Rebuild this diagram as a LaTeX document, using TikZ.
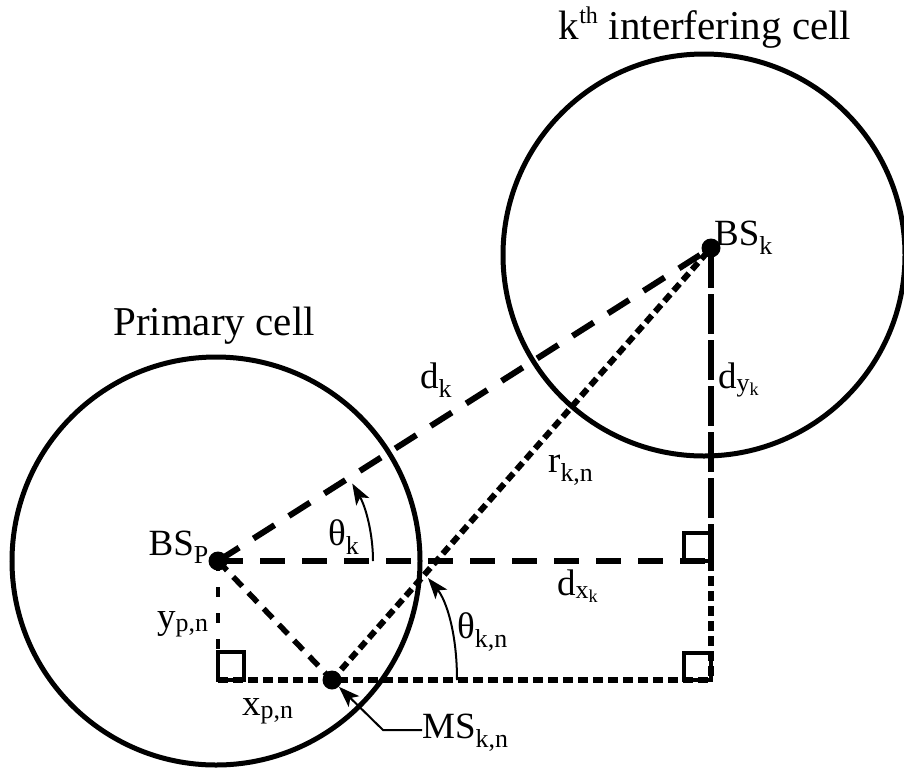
\documentclass[tikz,border=0pt]{standalone}
\usepackage{fontspec}
\setmainfont{Liberation Serif}
\usepackage{tikz}
\usetikzlibrary{arrows.meta, calc, positioning}

\begin{document}
\begin{tikzpicture}[x=1pt, y=-1pt,
    cell/.style={draw, line width=5pt},
    dot/.style={circle, fill, inner sep=0pt, minimum size=19pt},
    lbl/.style={font=\fontsize{37}{40}\selectfont, inner sep=0pt},
    ttl/.style={font=\fontsize{41}{44}\selectfont, inner sep=0pt},
    longdash/.style={line width=6pt, dash pattern=on 25pt off 17pt},
    barline/.style={line width=6pt, dash pattern=on 40pt off 6pt},
    shortdash/.style={line width=6pt, dash pattern=on 10pt off 5pt},
    dotline/.style={line width=6pt, dash pattern=on 9pt off 5pt},
    rbox/.style={draw, line width=4.5pt},
    angarrow/.style={-{Stealth[length=21pt, width=15pt, inset=5pt]}, line width=2pt}]
    \useasboundingbox (0,0) rectangle (904,769);

    % Cells
    \draw[cell] (216,561) circle[radius=204];
    \draw[cell] (704,255) circle[radius=201];
    \node[ttl, anchor=base] (primary) at (214,335) {Primary cell};
    \node[ttl, anchor=base] (interf) at (705,39) {k\textsuperscript{\fontsize{24}{24}\selectfont\raisebox{6pt}{th}} interfering cell};

    % Stations
    \node[dot] (BSp) at (218,561) {};
    \node[dot] (BSk) at (711,248) {};
    \node[dot] (MS) at (332,680) {};
    \coordinate (cornerA) at (711,561);
    \coordinate (cornerB) at (711,680);
    \coordinate (cornerC) at (218,680);

    % Right angles
    \draw[rbox] (684,533) rectangle (cornerA);
    \draw[rbox] (684,653) rectangle (cornerB);
    \draw[rbox] (218,652) rectangle (244,680);

    % Distances
    \draw[longdash] (BSp.center) -- (BSk.center);
    \draw[longdash] (BSp.center) -- (cornerA);
    \draw[barline] (BSk.center) -- (cornerA);
    \draw[shortdash] (cornerA) -- (cornerB);
    \draw[shortdash] (cornerC) -- (cornerB);
    \draw[dotline] (MS.center) -- (BSk.center);
    \draw[line width=5.5pt, dash pattern=on 13pt off 9pt] (BSp.center) -- (MS.center);
    \draw[line width=4.5pt, dash pattern=on 10pt off 16pt] (BSp.center) -- (cornerC);

    % Angles
    \draw[angarrow] (373,561) arc[start angle=0, end angle=-30, radius=155];
    \draw[angarrow] (457,680) .. controls (457,632) and (446,600) .. (428,578);

    % Labels
    \node[lbl, anchor=base east] (lblBSp) at (209,555) {BS\textsubscript{P}};
    \node[lbl, anchor=base west] (lblBSk) at (714,245) {BS\textsubscript{k}};
    \node[lbl, anchor=base west] (lbldk) at (420,388) {d\textsubscript{k}};
    \node[lbl, anchor=base west] (lblr) at (548,472) {r\textsubscript{k,n}};
    \node[lbl, anchor=base west] (lblthk) at (328,545) {θ\textsubscript{k}};
    \node[lbl, anchor=base west] (lblthkn) at (457,638) {θ\textsubscript{k,n}};
    \node[lbl, anchor=base west] (lbldx) at (557,595) {d\textsubscript{x\textsubscript{k}}};
    \node[lbl, anchor=base west] (lbldy) at (718,388) {d\textsubscript{y\textsubscript{k}}};
    \node[lbl, anchor=base west] (lbly) at (157,628) {y\textsubscript{p,n}};
    \node[lbl, anchor=base west] (lblx) at (242,715) {x\textsubscript{p,n}};
    \node[lbl, anchor=base west] (lblMS) at (422,738) {MS\textsubscript{k,n}};
    \draw[angarrow] (lblMS.west |- 0,730) -- ++(-39,0) -- (MS);
\end{tikzpicture}
\end{document}
